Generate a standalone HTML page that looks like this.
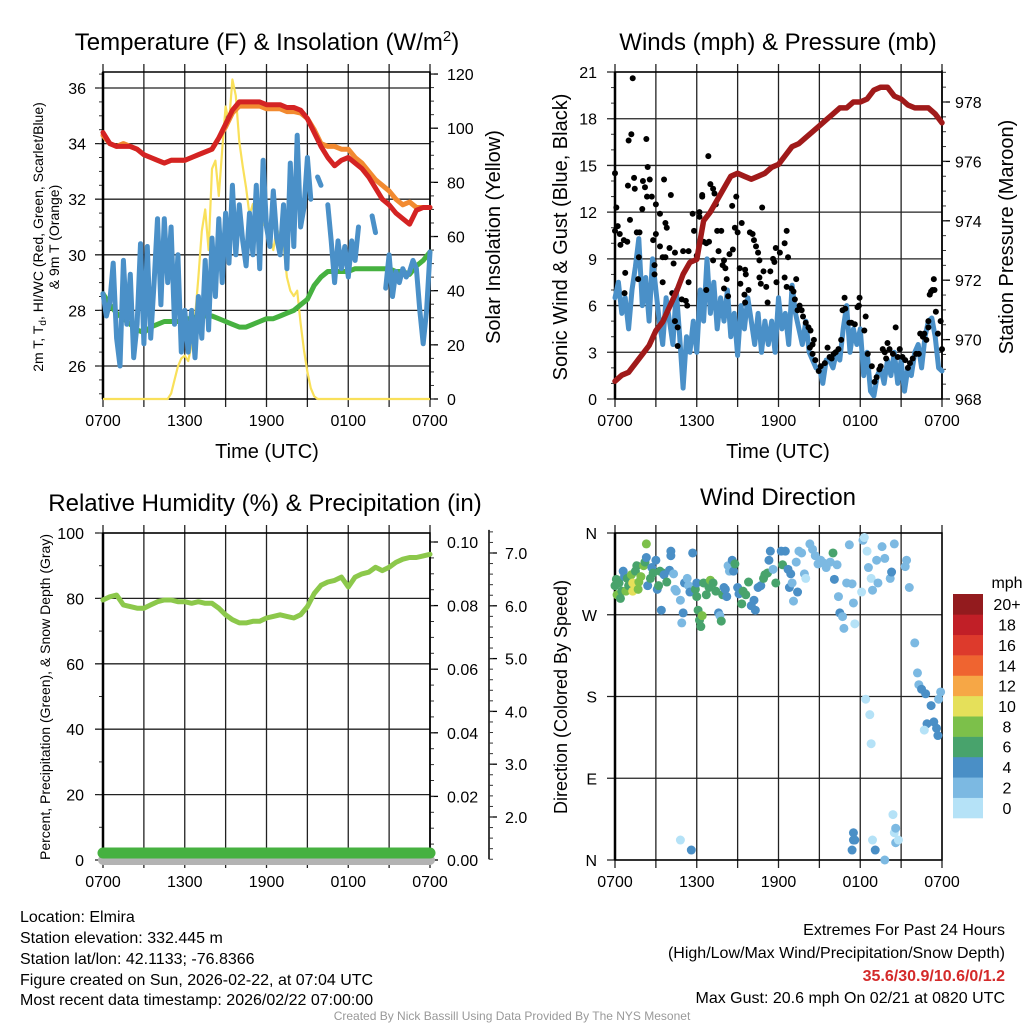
<!DOCTYPE html>
<html><head><meta charset="utf-8"><title>Elmira Mesonet Meteogram</title>
<style>
html,body{margin:0;padding:0;background:#fff;}
svg{display:block;font-family:"Liberation Sans",Arial,sans-serif;}
</style></head>
<body>
<svg id="chart" width="1024" height="1024" viewBox="0 0 1024 1024" xmlns="http://www.w3.org/2000/svg">
<rect x="0" y="0" width="1024" height="1024" fill="#fff"/>
<text x="267" y="50" font-size="24" text-anchor="middle">Temperature (F) &amp; Insolation (W/m<tspan font-size="15" dy="-9">2</tspan><tspan dy="9">)</tspan></text>
<text x="778" y="50" font-size="24" text-anchor="middle">Winds (mph) &amp; Pressure (mb)</text>
<text x="265" y="511" font-size="24" text-anchor="middle">Relative Humidity (%) &amp; Precipitation (in)</text>
<text x="778" y="505" font-size="24" text-anchor="middle">Wind Direction</text>

<text font-size="14" text-anchor="middle" transform="translate(43,237) rotate(-90)">2m T, T<tspan font-size="10" dy="3">d</tspan><tspan dy="-3">, HI/WC (Red, Green, Scarlet/Blue)</tspan></text>
<text font-size="14" text-anchor="middle" transform="translate(59,237) rotate(-90)">&amp; 9m T (Orange)</text>
<text font-size="20" text-anchor="middle" transform="translate(500,237) rotate(-90)">Solar Insolation (Yellow)</text>
<text x="267" y="458" font-size="20" text-anchor="middle">Time (UTC)</text>
<text font-size="20" text-anchor="middle" transform="translate(567,237) rotate(-90)">Sonic Wind &amp; Gust (Blue, Black)</text>
<text font-size="20" text-anchor="middle" transform="translate(1013,237) rotate(-90)">Station Pressure (Maroon)</text>
<text x="778" y="458" font-size="20" text-anchor="middle">Time (UTC)</text>
<text font-size="14" text-anchor="middle" transform="translate(50,697) rotate(-90)">Percent, Precipitation (Green), &amp; Snow Depth (Gray)</text>
<text font-size="18" text-anchor="middle" transform="translate(567,697) rotate(-90)">Direction (Colored By Speed)</text>

<g font-size="16">
<text x="20" y="922">Location: Elmira</text>
<text x="20" y="943">Station elevation: 332.445 m</text>
<text x="20" y="964">Station lat/lon: 42.1133; -76.8366</text>
<text x="20" y="985">Figure created on Sun, 2026-02-22, at 07:04 UTC</text>
<text x="20" y="1005">Most recent data timestamp: 2026/02/22 07:00:00</text>
</g>
<g font-size="16" text-anchor="end">
<text x="1005" y="935">Extremes For Past 24 Hours</text>
<text x="1005" y="958">(High/Low/Max Wind/Precipitation/Snow Depth)</text>
<text x="1005" y="981" fill="#d42a2a" font-weight="bold">35.6/30.9/10.6/0/1.2</text>
<text x="1005" y="1003">Max Gust: 20.6 mph On 02/21 at 0820 UTC</text>
</g>
<text x="512" y="1020" font-size="12" fill="#999" text-anchor="middle">Created By Nick Bassill Using Data Provided By The NYS Mesonet</text>
<g id="plots"></g>
</svg>
<script>
// ---------- data ----------
const timeLabels=['0700','1300','1900','0100','0700'];
const timeLabelHours=[0,6,12,18,24];
const tempTicks=[26,28,30,32,34,36];
const solarTicks=[0,20,40,60,80,100,120];
const windTicks=[0,3,6,9,12,15,18,21];
const presTicks=[968,970,972,974,976,978];
const rhTicks=[0,20,40,60,80,100];
const precTicks=['0.00','0.02','0.04','0.06','0.08','0.10'];
const snowTicks=['2.0','3.0','4.0','5.0','6.0','7.0'];
const dirLabels=['N','E','S','W','N'];
const dirTicks=[0,90,180,270,360];
const speedBins=['0','2','4','6','8','10','12','14','16','18','20+'];
const speedColors=['#b5e2f7','#7cb9e2','#4a8fc6','#48a36c','#7cc04a','#e5e05a','#f6a746','#ef6430','#dd3a2c','#c11f27','#931b1e'];

// half-hour series (h = 0..24 step 0.5)
const tempT=[34.4,34.0,33.9,33.9,33.9,33.8,33.6,33.5,33.4,33.3,33.4,33.4,33.4,33.5,33.6,33.7,33.8,34.2,34.7,35.2,35.5,35.5,35.5,35.5,35.4,35.4,35.4,35.3,35.3,35.2,34.9,34.4,33.9,33.5,33.2,33.4,33.5,33.3,33.1,32.8,32.4,32.0,31.8,31.5,31.3,31.1,31.6,31.7,31.7];
const temp9m=[34.3,34.0,33.9,34.0,33.9,33.8,33.6,33.5,33.4,33.3,33.4,33.4,33.4,33.5,33.6,33.7,33.8,34.2,34.6,35.1,35.35,35.35,35.35,35.35,35.25,35.25,35.25,35.15,35.15,35.1,34.9,34.5,34.0,33.9,33.9,33.8,33.8,33.5,33.3,33.0,32.7,32.5,32.3,32.0,31.8,31.9,31.7,31.7,31.7];
const dewpt=[28.6,28.2,27.9,27.7,27.5,27.3,27.2,27.4,27.5,27.6,27.6,27.6,27.7,27.7,27.8,27.8,27.8,27.7,27.6,27.5,27.4,27.4,27.5,27.6,27.7,27.7,27.8,27.9,28.0,28.2,28.4,28.9,29.2,29.4,29.4,29.4,29.4,29.5,29.5,29.5,29.5,29.5,29.5,29.4,29.4,29.3,29.6,29.8,30.1];
const pressure=[968.6,968.8,968.9,969.2,969.5,969.8,970.3,970.6,971.1,971.6,972.2,972.6,972.7,974.0,974.3,974.7,975.1,975.5,975.6,975.5,975.4,975.5,975.6,975.8,975.9,976.2,976.5,976.6,976.8,977.0,977.2,977.4,977.6,977.8,977.8,978.0,978.0,978.1,978.4,978.5,978.5,978.2,978.1,977.9,977.8,977.8,977.8,977.6,977.3];
const rh=[79.5,80.5,81,78,77.5,77,77,78,79,79.5,79.5,79,79,78.5,79,78.5,78.5,77,75,73.5,72.5,72.5,73,73,74,74.5,75,74.5,74,75,77.5,81.5,84,85,85.5,86.5,83.5,86.5,87.5,88,89.5,88.5,89.5,91,92,92.5,92.5,93,93.5];
const precip=[0,0,0,0,0,0,0,0,0,0,0,0,0,0,0,0,0,0,0,0,0,0,0,0,0,0,0,0,0,0,0,0,0,0,0,0,0,0,0,0,0,0,0,0,0,0,0,0,0];
// quarter-hour series (h = 0..24 step 0.25)
const windChill=[28.6,27.8,28.3,29.7,27.0,26.0,29.8,27.5,29.3,26.3,27.5,30.4,26.8,30.3,27.0,29.0,31.3,28.2,31.3,29.0,31.0,27.5,30.0,26.5,28.0,26.5,28.0,26.3,28.5,27.0,29.8,27.3,30.6,28.5,31.3,29.0,31.5,29.7,32.5,30.0,31.8,30.5,29.6,31.5,30.0,32.5,29.5,33.4,31.0,30.3,32.3,30.6,30.0,31.8,29.5,33.3,30.3,34.3,31.0,31.7,33.5,32.0,null,32.8,32.5,null,31.8,30.5,29.0,30.5,29.5,30.3,29.2,30.5,29.8,31.0,null,null,null,31.4,30.8,null,null,28.8,30.0,28.5,29.4,29.0,29.5,29.2,29.4,29.8,29.5,28.0,26.8,28.0,30.1];
const solar=[0,0,0,0,0,0,0,0,0,0,0,0,0,0,0,0,0,0,0,0,2,7,12,15,16,14,20,30,45,62,70,55,85,88,75,92,108,102,118,112,95,86,78,68,72,64,60,65,63,60,55,63,60,57,45,40,38,40,28,18,10,4,1,0,0,0,0,0,0,0,0,0,0,0,0,0,0,0,0,0,0,0,0,0,0,0,0,0,0,0,0,0,0,0,0,0,0];
const windSpeed=[6.5,7.5,5.5,6.5,4.5,7.0,8.5,10.3,6.0,7.8,5.0,9.0,7.0,5.0,3.5,6.5,5.0,3.5,7.0,4.0,0.7,4.0,3.0,5.0,3.0,7.0,5.0,9.0,5.5,7.5,4.5,6.5,5.0,7.0,4.0,5.5,2.8,6.0,4.5,6.5,5.0,3.5,5.5,3.0,5.0,3.5,5.0,3.0,6.5,4.5,5.5,3.5,7.3,5.5,4.5,3.5,5.0,3.0,2.5,2.0,2.0,1.0,2.5,2.5,2.0,3.0,2.5,4.5,6.0,3.0,4.5,3.5,4.5,1.5,3.0,0.5,0.2,1.5,2.0,1.0,2.5,1.5,3.0,1.0,2.5,0.5,2.0,1.5,3.0,3.5,2.0,4.0,5.0,5.2,4.0,2.0,1.8];
// gust points: hour, mph
const gustHours=[0,0,0.1,0.2,0.35,0.4,0.65,0.9,0.7,0.75,1.0,1.2,1.3,1.4,1.45,0.95,1.1,1.6,1.8,1.75,1.7,2.0,2.05,2.2,2.3,2.35,2.4,2.55,2.7,2.8,2.9,3.0,3.0,2.9,3.3,3.3,3.5,3.6,3.7,3.8,3.7,3.5,4.0,4.1,4.3,4.4,4.2,4.4,4.6,4.6,4.9,5.0,5.2,5.4,5.3,5.4,5.7,5.8,6.0,6.2,6.4,6.4,6.2,6.5,6.7,6.9,6.7,6.85,7.0,7.2,7.3,7.4,7.5,7.8,7.6,7.2,7.9,8.0,8.1,8.2,8.3,8.0,8.4,8.6,8.65,8.8,8.9,9.0,9.15,9.2,9.3,9.5,9.55,9.55,9.6,9.8,9.9,10.1,10.2,10.35,10.5,10.6,10.6,10.7,10.8,10.9,11.1,11.2,11.4,11.6,11.7,11.8,11.85,12.1,12.45,12.6,12.7,12.45,12.6,12.95,13.1,13.2,13.3,13.4,13.7,13.55,13.8,14.0,14.2,14.35,14.5,14.6,14.3,14.5,14.7,14.95,15.1,15.4,15.6,15.75,15.9,16.05,16.2,16.4,16.6,16.7,16.85,16.9,17.2,17.35,17.6,17.8,17.9,17.95,18.3,18.4,18.55,18.85,19.05,19.2,19.4,19.5,19.65,19.8,19.9,20.0,20.15,20.4,20.6,20.75,20.9,21.1,21.3,21.5,21.65,21.85,22.1,22.3,22.4,22.6,22.7,22.85,23.0,23.0,23.1,23.2,23.3,23.4,23.45,23.55,23.7,23.9,24.0];
const gustSpeeds=[10.8,14.5,12.3,11.1,10.6,9.9,10.2,10.1,6.8,8.1,16.6,17.0,20.6,14.2,13.5,13.7,11.5,10.7,10.7,9.1,7.7,12.2,14.0,13.6,16.7,13.0,14.9,14.1,13.0,10.2,8.0,12.5,10.6,8.6,11.9,9.8,9.1,14.1,11.3,11.0,9.1,7.5,9.7,13.1,8.7,9.4,6.8,5.0,4.6,3.4,6.4,9.5,6.3,9.5,6.0,7.5,11.9,10.8,9.2,12.0,13.1,13.0,11.7,10.1,10.0,10.1,7.0,15.6,13.8,13.5,13.2,12.5,10.8,10.8,9.5,8.9,8.6,8.9,8.4,7.7,6.6,7.1,9.3,12.4,9.6,11.0,13.0,10.7,8.4,7.4,11.3,6.7,6.2,8.3,8.0,7.0,10.7,10.6,10.2,9.8,9.4,8.9,7.8,7.4,12.3,8.2,7.2,6.2,8.2,9.0,8.8,9.7,7.5,9.4,10.0,10.8,9.1,7.8,7.2,7.1,6.9,6.4,7.7,5.7,5.7,6.0,5.3,4.9,4.6,4.4,3.5,3.8,3.3,2.9,2.5,1.8,2.1,2.3,3.3,2.7,2.6,2.9,3.0,3.2,3.8,5.7,6.5,5.8,4.9,4.9,4.8,5.9,6.0,6.5,4.4,5.3,2.9,2.1,1.1,1.4,1.9,2.1,3.2,3.0,2.6,3.6,3.2,2.9,4.6,2.7,3.2,2.7,2.5,2.0,2.3,2.6,2.9,2.9,4.2,4.0,4.2,3.8,5.0,4.6,6.7,6.9,7.0,7.7,7.0,5.6,4.2,5.0,3.2];
// wind direction points
const dirHours=[0.0,0.1,0.15,0.3,0.4,0.5,0.6,0.7,0.8,0.9,1.0,1.2,1.3,1.3,1.5,1.6,1.7,1.75,1.9,2.1,2.2,2.3,2.3,2.4,2.6,2.7,2.8,3.0,3.1,3.2,3.3,3.4,3.5,3.6,3.8,4.0,4.1,4.1,4.3,4.4,4.5,4.8,4.9,5.0,5.1,5.3,5.4,5.5,5.7,5.9,6.0,6.0,6.1,6.2,6.3,6.4,6.5,6.7,6.9,7.0,7.2,7.4,7.6,7.7,7.8,7.9,8.0,8.1,8.2,8.3,8.4,8.6,8.7,8.8,9.0,9.1,9.3,9.4,9.6,9.8,10.0,10.2,10.3,10.5,10.7,10.9,11.0,11.2,11.3,11.4,11.6,11.8,12.2,12.3,12.5,12.7,12.8,12.9,13.0,13.1,13.3,13.4,13.5,13.7,13.9,14.0,14.3,14.5,14.7,14.9,15.1,15.3,15.5,15.8,16.0,16.1,16.3,16.4,16.5,16.7,16.8,17.0,17.2,17.4,17.5,17.6,18.1,18.2,18.3,18.5,18.6,18.8,18.9,19.2,19.3,19.6,19.8,20.2,20.3,20.5,21.3,21.4,21.6,22.0,22.2,22.3,22.5,22.8,22.9,23.2,23.4,23.6,23.7,23.9,23.75,4.8,5.6,17.5,17.5,17.4,17.6,19.1,18.9,19.8,20.4,20.5,20.6,20.6,20.8,18.4,18.7,18.8,22.7];
const dirDegrees=[302,309,292,305,288,296,318,312,296,310,302,314,305,296,318,324,298,306,312,324,328,348,333,302,310,322,316,330,298,302,318,275,316,314,306,319,340,335,315,298,296,286,261,272,305,310,302,295,338,298,305,290,275,264,257,269,305,292,300,308,305,296,272,269,263,292,300,298,290,324,318,330,318,326,300,293,282,296,292,306,280,286,275,300,302,310,314,316,330,340,320,305,340,325,340,320,300,315,305,285,328,295,340,338,315,310,348,342,335,326,330,327,322,328,338,309,325,290,272,268,255,305,347,304,283,260,295,352,355,340,322,310,297,330,305,345,332,310,317,348,323,330,300,239,206,193,188,183,150,170,152,145,137,185,177,22,11,30,22,11,22,11,22,0,50,30,35,19,22,177,160,128,143];
const dirSpeeds=[7,7,8,6,6,7,5,5,8,7,6,8,10,10,6,7,9,9,8,8,7,8,4,4,7,4,6,4,5,6,6,4,7,4,6,4,4,4,3,3,2,3,3,4,4,3,3,4,4,6,4,6,6,6,6,8,7,6,7,8,6,7,4,3,6,6,5,4,5,2,3,4,4,7,5,4,6,6,6,7,4,4,4,5,4,6,6,7,4,4,3,6,4,6,4,4,4,4,3,3,3,4,2,2,3,1,2,3,2,3,2,3,3,3,6,4,3,3,4,3,3,3,3,3,2,1,1,2,1,1,2,1,3,3,2,2,3,2,4,3,2,3,2,2,3,2,4,4,4,4,4,4,4,3,3,0,4,4,4,4,4,4,0,2,0,0,3,3,0,0,1,0,1];

// ---------- drawing ----------
const NS='http://www.w3.org/2000/svg';
const root=document.getElementById('plots');
function mk(tag,attrs,parent){const e=document.createElementNS(NS,tag);for(const k in attrs)e.setAttribute(k,attrs[k]);(parent||root).appendChild(e);return e;}
function linePath(xs,ys){let d='',pen=false;for(let i=0;i<xs.length;i++){if(ys[i]===null||ys[i]===undefined){pen=false;continue;}d+=(pen?'L':'M')+xs[i].toFixed(1)+' '+ys[i].toFixed(1);pen=true;}return d;}
function series(arr,step,xf,yf){const xs=[],ys=[];arr.forEach((v,i)=>{xs.push(xf(i*step));ys.push(v===null?null:yf(v));});return linePath(xs,ys);}

const P1={x0:103,x1:430,top:72,bot:399};
const P2={x0:615,x1:942,top:72,bot:399};
const P3={x0:103,x1:430,top:533,bot:860};
const P4={x0:615,x1:942,top:533,bot:860};
function xOf(p){return h=>p.x0+h*(p.x1-p.x0)/24;}
const y1T=v=>88+(36-v)*27.8, y1S=v=>399-v*2.708;
const y2W=v=>399-v*327/21, y2P=v=>399-(v-968)*29.7;
const y3R=v=>860-v*3.27, y3P=v=>860-v*3180, y3S=v=>553+(7-v)*52.8;
const y4D=v=>860-v*327/360;

function frame(p,name){
  const g=mk('g',{});
  
  
  const xf=xOf(p);
  for(let h=0;h<=24;h+=3){
    const ln=mk('line',{x1:xf(h),x2:xf(h),y1:p.top-8,y2:p.bot+8,stroke:'#222','stroke-width':1.3},g);
    
    
  }
  timeLabels.forEach((t,i)=>{
    const tx=mk('text',{x:xf(timeLabelHours[i]),y:p.bot+27,'font-size':16,'text-anchor':'middle'},g);
    tx.textContent=t;
    
    
  });
  return g;
}
function hGrid(g,p,ys,labels,lx,anchor,minorYs){
  ys.forEach((y,i)=>{
    const ln=mk('line',{x1:p.x0-8,x2:p.x1,y1:y,y2:y,stroke:'#222','stroke-width':1.3},g);
    
    
    const tx=mk('text',{x:lx,y:y+6,'font-size':16,'text-anchor':anchor},g);
    tx.textContent=labels[i];
    
    
  });
  (minorYs||[]).forEach(y=>{mk('line',{x1:p.x0-4,x2:p.x0,y1:y,y2:y,stroke:'#333','stroke-width':1},g);});
}
function rAxis(g,x,ys,labels,lx,minorYs,name){
  const all=ys.concat(minorYs);
  const ax=mk('line',{x1:x,x2:x,y1:Math.min(...all)-2,y2:Math.max(...all),stroke:'#000','stroke-width':1.5},g);
  
  
  ys.forEach((y,i)=>{
    mk('line',{x1:x,x2:x+8,y1:y,y2:y,stroke:'#000','stroke-width':1.3},g);
    const tx=mk('text',{x:lx,y:y+6,'font-size':16,'text-anchor':'start'},g);
    tx.textContent=labels[i];
    
    
  });
  minorYs.forEach(y=>{mk('line',{x1:x,x2:x+4,y1:y,y2:y,stroke:'#333','stroke-width':1},g);});
}
function box(g,p){
  const b=mk('rect',{x:p.x0,y:p.top,width:p.x1-p.x0,height:p.bot-p.top,fill:'none',stroke:'#000','stroke-width':1.5},g);
  
  
  mk('line',{x1:p.x0,x2:p.x0,y1:p.top,y2:p.bot,stroke:'#000','stroke-width':2.5},g);
}
function range(a,b,s){const r=[];for(let v=a;v<=b+1e-9;v+=s)r.push(v);return r;}

// ---- Panel 1: temperature ----
{
  const g=frame(P1,'temp');
  hGrid(g,P1,tempTicks.map(y1T),tempTicks,86,'end',range(25,36.5,0.5).map(y1T).filter(y=>y>=P1.top&&y<=P1.bot));
  rAxis(g,P1.x1,solarTicks.map(y1S),solarTicks,447,range(0,120,5).map(y1S),'solar-axis');
  box(g,P1);
  const xf=xOf(P1);
  const s=mk('path',{d:series(solar,0.25,xf,y1S),fill:'none',stroke:'#f9e05a','stroke-width':2.2,'stroke-linejoin':'round'});
  
  
  const d=mk('path',{d:series(dewpt,0.5,xf,y1T),fill:'none',stroke:'#46b140','stroke-width':5,'stroke-linejoin':'round','stroke-linecap':'round'});
  
  
  const w=mk('path',{d:series(windChill,0.25,xf,y1T),fill:'none',stroke:'#4a90c8','stroke-width':5,'stroke-linejoin':'round','stroke-linecap':'round'});
  
  
  const o=mk('path',{d:series(temp9m,0.5,xf,y1T),fill:'none',stroke:'#f28a30','stroke-width':5,'stroke-linejoin':'round','stroke-linecap':'round'});
  
  
  const r=mk('path',{d:series(tempT,0.5,xf,y1T),fill:'none',stroke:'#d42323','stroke-width':5,'stroke-linejoin':'round','stroke-linecap':'round'});
  
  
}
// ---- Panel 2: winds & pressure ----
{
  const g=frame(P2,'wind');
  hGrid(g,P2,windTicks.map(y2W),windTicks,597,'end',range(0,21,1).map(y2W));
  rAxis(g,P2.x1,presTicks.map(y2P),presTicks,955,range(968,979,0.5).map(y2P).filter(y=>y>=P2.top),'pressure-axis');
  box(g,P2);
  const xf=xOf(P2);
  const w=mk('path',{d:series(windSpeed,0.25,xf,y2W),fill:'none',stroke:'#4a90c8','stroke-width':5,'stroke-linejoin':'round','stroke-linecap':'round'});
  
  
  const gg=mk('g',{fill:'#000'});
  
  
  gustHours.forEach((h,i)=>{
    const c=mk('circle',{cx:xf(h),cy:y2W(gustSpeeds[i]),r:3},gg);
    
    
  });
  const p=mk('path',{d:series(pressure,0.5,xf,y2P),fill:'none',stroke:'#a01a1a','stroke-width':5.5,'stroke-linejoin':'round','stroke-linecap':'round'});
  
  
}
// ---- Panel 3: RH & precip ----
{
  const g=frame(P3,'rh');
  hGrid(g,P3,rhTicks.map(y3R),rhTicks,84,'end',range(0,100,10).map(y3R));
  rAxis(g,P3.x1,precTicks.map(v=>y3P(+v)),precTicks,447,range(0,0.1,0.005).map(y3P),'precip-axis');
  rAxis(g,489,snowTicks.map(v=>y3S(+v)),snowTicks,505,range(1.2,7.4,0.2).map(y3S),'snow-depth-axis');
  const xf=xOf(P3);
  const sd=mk('line',{x1:xf(0),x2:xf(24),y1:860,y2:860,stroke:'#b3b3b3','stroke-width':10,'stroke-linecap':'round'});
  
  
  box(g,P3);
  const pr=mk('path',{d:series(precip,0.5,xf,v=>y3P(v)-7),fill:'none',stroke:'#46b140','stroke-width':11,'stroke-linecap':'round'});
  
  
  const r=mk('path',{d:series(rh,0.5,xf,y3R),fill:'none',stroke:'#8cc84b','stroke-width':5,'stroke-linejoin':'round','stroke-linecap':'round'});
  
  
}
// ---- Panel 4: wind direction ----
{
  const g=frame(P4,'direction');
  hGrid(g,P4,dirTicks.map(y4D),dirLabels,597,'end',[]);
  box(g,P4);
  const xf=xOf(P4);
  const pg=mk('g',{});
  
  
  dirHours.forEach((h,i)=>{
    const bin=Math.min(10,Math.floor(dirSpeeds[i]/2));
    const c=mk('circle',{cx:xf(h),cy:y4D(dirDegrees[i]),r:4.5,fill:speedColors[bin]},pg);
    
    
  });
  const lg=mk('g',{});
  
  
  const t=mk('text',{x:1007,y:588,'font-size':16,'text-anchor':'middle'},lg);
  t.textContent='mph';
  
  
  const bh=(818-594)/11;
  speedBins.forEach((lab,i)=>{
    const y=818-(i+1)*bh;
    const r=mk('rect',{x:953,y:y,width:30,height:bh+0.3,fill:speedColors[i]},lg);
    
    
    const tx=mk('text',{x:1007,y:y+bh/2+6,'font-size':16,'text-anchor':'middle'},lg);
    tx.textContent=lab;
    
    
  });
}
</script>
</body></html>
